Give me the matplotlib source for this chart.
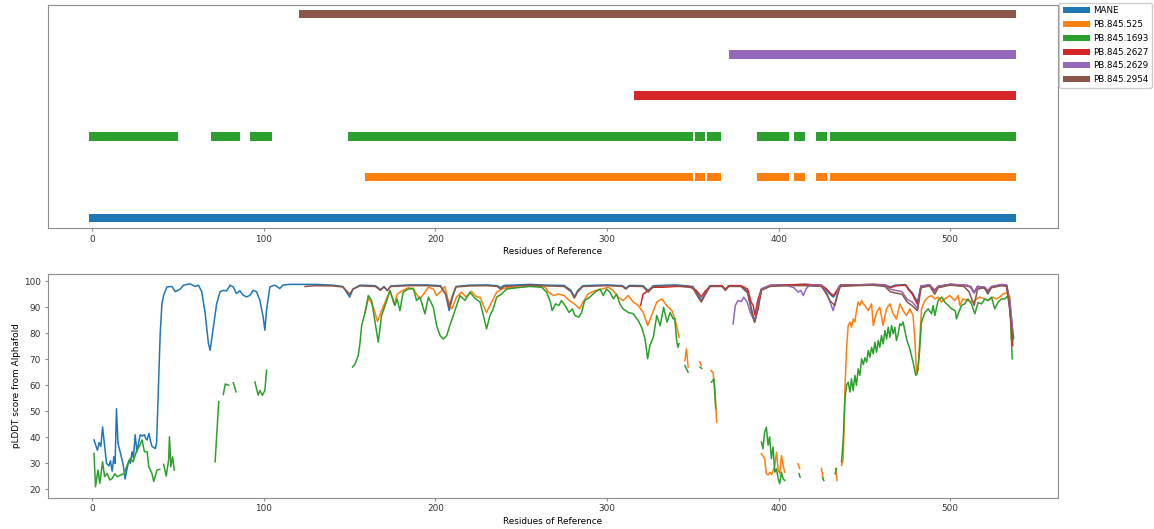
import numpy as np
import matplotlib
matplotlib.use("Agg")
import matplotlib.pyplot as plt

# isoform names and colours
isoforms = ["MANE", "PB.845.525", "PB.845.1693", "PB.845.2627", "PB.845.2629", "PB.845.2954"]
colors = ["#1f77b4", "#ff7f0e", "#2ca02c", "#d62728", "#9467bd", "#8c564b"]

# residue ranges (start, end) covered by each isoform, in reference residues
mane_ranges = [(-1.9, 538.6)]
pb525_ranges = [(158.9, 350.2), (351.2, 357.2), (358.4, 366.2), (387.2, 406.2),
                (408.9, 415.3), (422.1, 428.5), (430.0, 538.6)]
pb1693_ranges = [(-1.9, 50.1), (69.2, 86.1), (91.9, 104.5), (148.8, 350.2), (351.2, 357.2),
                 (358.4, 366.2), (387.2, 406.2), (408.9, 415.3), (422.1, 428.5), (430.0, 538.6)]
pb2627_ranges = [(315.7, 538.6)]
pb2629_ranges = [(371.3, 538.6)]
pb2954_ranges = [(120.5, 538.6)]

# pLDDT traces: list of segments, each segment a list of (residue, score)
mane_plddt = [[
    (1, 39), (2, 37), (3, 35), (4, 38), (5, 36.5), (6, 44), (7, 38), (8.3, 30), (9.7, 29),
    (10.6, 31), (11.6, 27), (12.6, 32.5), (13.3, 30), (14.1, 51), (15, 37.7), (16.4, 34),
    (17.5, 31), (18.4, 28), (19.1, 24), (20.3, 28), (21.3, 31), (22.2, 30), (23.2, 34.5),
    (24, 32), (25, 41), (26, 34.5), (27, 38), (28, 41), (29, 40.5), (30.4, 41), (31.2, 39.5),
    (32, 39), (33, 41.5), (34, 38.5), (34.8, 36.5), (36.8, 35.7), (37.5, 38), (38.9, 65.8),
    (39.6, 80), (40.6, 91.4), (41.6, 94.6), (43.5, 97.8), (46.4, 98), (48.4, 96), (51.3, 97),
    (53.2, 98.5), (57, 99), (60, 98), (61.9, 98.5), (63.8, 96), (65.8, 87.6), (67.7, 76),
    (68.7, 73.5), (70.6, 82.5), (72.5, 91.4), (74.5, 96), (76.4, 96.5), (78.3, 96.3),
    (80.3, 98.5), (82.2, 97.8), (84, 95.3), (86, 96.3), (88, 94.6), (90, 94), (91.9, 94.6),
    (93.8, 96.5), (95.7, 96), (97.7, 92.7), (99.6, 86.3), (100.6, 81.2), (101.6, 89),
    (103.5, 97.8), (106.4, 98.5), (109.3, 97.2), (111, 98.5), (115, 98.8), (121, 98.8),
    (130, 98.8), (140, 98.5), (146, 98), (148, 96), (150, 93.9), (152, 97), (156, 98.5),
    (165, 98.3), (168, 96.8), (170, 98), (172, 96.4), (174, 98.2), (185, 98.6), (195, 98.6),
    (203, 98.3), (206, 95), (208, 88.7), (210, 94), (212, 98), (220, 98.5), (230, 98.6),
    (236, 98.3), (238, 97.5), (240, 98.4), (255, 98.8), (265, 98.5), (275, 98.4), (279, 96.5),
    (281, 94), (283, 96.5), (286, 98.3), (300, 98.6), (309, 98.3), (311, 97.3), (313, 98.4),
    (321, 98.3), (324, 96.4), (327, 98.3), (340, 98.6), (350, 98), (353, 95), (355, 92.6),
    (357, 95), (360, 98.3), (367, 98.3), (369, 96.8), (371, 98.3), (378, 98.3), (382, 96),
    (384, 90), (386, 84.5), (388, 90), (390, 97), (395, 98.4), (405, 98.6), (415, 98.8),
    (425, 98.5), (428, 96.5), (430, 95), (432, 93.9), (434, 96), (436, 98.5), (445, 98.6),
    (455, 98.8), (462, 98.6), (465, 97.8), (468, 98.5), (474, 98.7), (476, 97), (478, 95.5),
    (481, 92), (483, 98.2), (488, 98.6), (491, 96.5), (493, 98), (500, 98.8), (508, 98.5),
    (512, 98), (514, 95.8), (516, 98), (520, 97.5), (522, 95.1), (524, 97.8), (530, 98.6),
    (533, 98.3), (535, 90), (537, 78)]]

pb525_plddt = [
    [(159, 88), (160.9, 93.5), (163, 91.3), (164.8, 88), (166.2, 84.5), (168.6, 88.7),
     (171, 92.5), (173.5, 96.4), (176, 91), (177.7, 95), (181, 96.5), (184.2, 97.5),
     (187.1, 97), (189, 95), (191, 93.2), (193.9, 95.8), (195.9, 97.7), (198.8, 97),
     (200.7, 94.5), (203.6, 96.4), (205.5, 98), (207.5, 92.6), (209.5, 89.4), (212.3, 93.9),
     (215.2, 95.8), (218, 93.9), (221, 96.1), (224, 94), (226, 93.9), (228, 90.7), (229.8, 88),
     (231.8, 90.7), (233.7, 93.2), (235.7, 95.8), (238.6, 97), (242.6, 97.7), (250, 97.7),
     (255, 98.2), (260, 98), (263.9, 97.7), (265.9, 95.8), (268.8, 94.5), (271.8, 95.1),
     (275, 94.5), (278, 92.6), (281, 91.3), (284, 89.4), (286, 92), (289, 95.1), (293, 96.4),
     (297, 97), (300.7, 97.7), (303.6, 96.4), (306.5, 93.9), (309.4, 92.6), (312.4, 94.5),
     (315.3, 92), (318.2, 90.7), (321.1, 88), (323.7, 83), (326, 86.8), (329, 92), (332, 93.2),
     (334.8, 90.7), (337.8, 88.7), (338.6, 87.5), (340.6, 83), (342, 78.5)],
    [(345.4, 69.5), (346.3, 74), (347.3, 67)],
    [(354, 69), (355, 67.6)],
    [(360.5, 65.7), (361.8, 65), (362.9, 58.6), (363.9, 45.8)],
    [(390, 33.7), (391.9, 31.8), (392.9, 26), (393.9, 25.5), (395, 26.6), (396, 25.7),
     (397.8, 29), (398.8, 34.3), (399.8, 27.5), (400.7, 26), (401.7, 33), (402.7, 29),
     (403.6, 26.6)],
    [(411.3, 29.8), (412.3, 28)],
    [(425, 28), (426, 24)],
    [(433.2, 28), (434.1, 23.4)],
    [(436.7, 29.2), (437.7, 31.8), (438.7, 58.6), (439.6, 74), (440.6, 83), (441.6, 84.3),
     (442.5, 82.3), (443.5, 85.5), (444.5, 84.3), (445.4, 88.7), (446.4, 92), (447.4, 90.7),
     (448.4, 92.6), (449.4, 91.3), (450.3, 90.7), (452.3, 88.7), (454.2, 91.3), (455.2, 83),
     (457.1, 88), (459, 90), (460.9, 83), (462.9, 89.4), (464.9, 91.3), (466.8, 87.5),
     (468.7, 85.5), (470.7, 91.3), (472.6, 88.7), (474.6, 86.8), (476.5, 89.4), (478.4, 86.8),
     (479.4, 77.8), (480.4, 65), (481.3, 65.7), (482.3, 77.8), (483.3, 89.4), (485.3, 92.6),
     (487.2, 93.9), (489.2, 94.5), (491.1, 93.2), (493, 93.9), (495, 92), (496.9, 93.2),
     (499.8, 94.5), (502.7, 92.6), (504.7, 94.5), (505.6, 90.7), (507.5, 93.2), (510.4, 92.6),
     (513.4, 92), (515.3, 93.2), (517.2, 93.9), (520.1, 93.2), (522.1, 92.6), (525, 93.9),
     (526.9, 93.2), (528.9, 93.9), (530.8, 95.1), (532.8, 95.5), (534.8, 93.9), (535.7, 77.8)]]

pb1693_plddt = [
    [(1, 33.8), (1.9, 21), (3.3, 27.4), (4.4, 22.3), (6, 30.6), (7.2, 24.9), (8.7, 26.1),
     (10.3, 23.6), (11.6, 24.2), (13.2, 26), (14.5, 24.9), (16.4, 25.5), (18.8, 26.1),
     (20.3, 29.3), (22.2, 31.9), (23.8, 30.6), (25.7, 34.5), (27.7, 37), (29, 39), (30.4, 34.5),
     (32, 34.5), (32.9, 28.7), (34.8, 26.1), (35.8, 23), (37.7, 27.4), (39.3, 27.7)],
    [(41.6, 29.6), (43.1, 25.1), (44.5, 31.3), (45, 40.2), (45.8, 28.7), (46.8, 32.5),
     (47.8, 27.4)],
    [(71.6, 30.6), (73.7, 53.7)],
    [(76.4, 56.5), (77.5, 60.5), (79.5, 60)],
    [(82.2, 61), (83.8, 57.5)],
    [(94.8, 61.3), (96.7, 56.2), (97.7, 58), (99.2, 56.2), (100.6, 58), (101.6, 65.8)],
    [(151.7, 67), (153, 68), (155, 71.4), (156, 76), (157, 83), (159, 88), (160.9, 94.5),
     (162.8, 92.6), (164.8, 84.3), (166.7, 76.6), (168.6, 86.8), (171, 91.3), (173.5, 96.4),
     (176.4, 90.7), (177.7, 93.2), (179.3, 88.7), (181.2, 95.8), (184.2, 97), (187.1, 97.3),
     (189, 92.6), (191, 93.9), (193.9, 87.5), (195.9, 93.9), (198.8, 90), (200.7, 83),
     (202.7, 79.1), (204.6, 77.8), (206.6, 79.1), (208.4, 83), (210.4, 86.8), (212.3, 90.6),
     (214.3, 94.5), (217.2, 92.6), (220.1, 95.8), (223, 93.5), (226, 92), (228, 86.8),
     (229.8, 81.7), (231.8, 86.8), (233.7, 89.4), (235.7, 93.9), (238.6, 95.1), (241.5, 97),
     (250, 97.7), (255, 98), (261.9, 97.7), (264.8, 95.8), (267, 92), (268, 88.7), (270, 91.3),
     (272, 90.7), (273.5, 92.6), (275.5, 90.7), (277.9, 88), (279.8, 89.4), (281.3, 86.8),
     (283.6, 86.2), (285.2, 88), (287, 92.6), (290, 93.9), (293, 95.8), (295.9, 97),
     (297.8, 94.5), (299.8, 97), (301.7, 95.8), (303.7, 93.2), (305.6, 95.1), (307.5, 91.3),
     (309.4, 89.4), (312.4, 88), (315.3, 87.5), (318.2, 84.9), (320.2, 82.3), (322.2, 77.8),
     (323.7, 70.2), (325, 75.3), (327, 78.5), (329, 86.8), (331, 82.9), (333, 90), (335, 84.3),
     (336.8, 88), (338.6, 85.5), (339.5, 85.8), (340.5, 77.8), (341.3, 74.6), (342, 76)],
    [(345.4, 67.6), (347.3, 65)],
    [(354.2, 67), (355.2, 66.5)],
    [(360.9, 61.2), (362.3, 62.5), (363.4, 51)],
    [(390, 38.2), (390.9, 35.6), (391.9, 42), (392.9, 43.9), (393.9, 37), (394.8, 40.2),
     (395.8, 31.8), (396.8, 36.3), (397.8, 26.6), (398.8, 27.9), (399.8, 24), (400.7, 22.2),
     (401.7, 26.6), (402.7, 24), (403.6, 23.4)],
    [(411.9, 26), (412.6, 24.7)],
    [(425.6, 24.5), (426.4, 23.4)],
    [(433, 26), (433.8, 28)],
    [(436.7, 30.5), (437.7, 39.4), (438.7, 54.8), (439.6, 60), (440.6, 61.2), (441.6, 57.4),
     (442.5, 62.5), (443.5, 58), (444.5, 63.8), (445.4, 60), (446.4, 66.3), (447.4, 63.8),
     (448.4, 70.2), (449.4, 68), (450.3, 70.6), (451.3, 68.9), (452.3, 73.4), (453.2, 70.8),
     (454.2, 74.6), (455.2, 72.1), (456.1, 76.6), (457.1, 72.7), (458.1, 77.2), (459, 74.6),
     (460, 79.1), (461, 75.9), (462, 81), (463, 77.8), (463.9, 82.3), (464.9, 78.5), (465.9, 83),
     (466.8, 79.8), (467.8, 82.3), (468.7, 77.2), (469.7, 79.8), (470.7, 83.6), (471.6, 83),
     (472.6, 84.3), (474.6, 77.8), (476.5, 74), (478.4, 68.9), (480, 63.8), (480.8, 64.4),
     (482, 71.4), (483.3, 84.3), (485.3, 88), (487.2, 89.4), (489.2, 87.5), (490.1, 90.7),
     (491.1, 86.8), (493, 92.6), (495, 93.9), (496.9, 92), (498.9, 90.7), (500.8, 89.4),
     (503, 88.7), (503.7, 85.5), (504.7, 87.5), (506.6, 90.7), (508.5, 91.3), (510.4, 93.2),
     (512.4, 91.3), (514.4, 87.5), (516.3, 91.8), (518.3, 91.3), (520.2, 93.2), (522.1, 92.6),
     (524.1, 93.9), (526, 89.4), (528, 92), (529.9, 93.2), (531.8, 93.2), (533.8, 94.5),
     (534.8, 92), (536.2, 70.2)]]

pb2627_plddt = [[
    (319.6, 90.7), (321, 95), (324, 96.4), (327, 97.7), (333, 97.7), (340, 98), (348, 98),
    (352, 96.5), (355, 94), (357, 96), (360, 98), (367, 98.3), (369, 96.8), (371, 98.3),
    (378, 98.3), (382, 97), (384, 92), (385.2, 90.7), (386.2, 87), (388, 93), (390, 97),
    (395, 98.4), (405, 98.6), (415, 98.8), (425, 98.5), (428, 97), (430, 95.5), (432, 94.5),
    (434, 96.5), (436, 98.5), (445, 98.6), (455, 98.8), (462, 98.6), (465, 97.5), (468, 98.2),
    (474, 98.5), (476, 96.5), (478, 95), (481, 91), (483, 98), (488, 98.6), (491, 96.5),
    (493, 98), (500, 98.8), (508, 98.5), (512, 97.8), (514, 95.5), (516, 98), (520, 97.5),
    (522, 95.8), (524, 97.8), (530, 98.6), (533, 98.3), (535, 88), (536.5, 75.3)]]

pb2629_plddt = [[
    (373.5, 83.6), (374.8, 90.7), (376.4, 92.6), (378.4, 92.2), (379.7, 93.9), (381.7, 92),
    (383.5, 88), (385, 86), (386.2, 84.5), (388, 90), (390, 97), (395, 98.4), (405, 98.4),
    (409, 97.5), (411.5, 95.8), (413, 96.5), (414.4, 94.5), (416, 97), (418, 98.5), (425, 98.5),
    (428, 95.5), (430, 92), (431.8, 88.7), (433.5, 93), (435, 98), (445, 98.6), (455, 98.7),
    (462, 98.5), (465, 97), (468, 96.5), (472, 96), (475, 93), (478, 92), (481, 89.5), (483, 98),
    (488, 98.6), (491, 96), (493, 98), (500, 98.8), (510, 98.5), (512, 97.5), (514, 95.5),
    (516, 98), (520, 97.8), (522, 96.5), (524, 98), (530, 98.8), (533, 98.6), (535, 92),
    (536.5, 80)]]

pb2954_plddt = [[
    (124, 98), (130, 98.3), (140, 98.2), (146, 97.8), (148, 96.5), (150, 95), (152, 97),
    (156, 98.2), (165, 98), (168, 96.5), (170, 97.8), (172, 96.5), (174, 98), (185, 98.3),
    (195, 98.3), (203, 98), (206, 95), (208, 90), (210, 94.5), (212, 97.8), (220, 98.2),
    (230, 98.3), (236, 98), (238, 97), (240, 98), (255, 98.5), (265, 98.2), (275, 98), (279, 96),
    (281, 93.5), (283, 96), (286, 98), (300, 98.3), (309, 98), (311, 97), (313, 98.1), (321, 98),
    (324, 95.8), (327, 98), (340, 98.3), (350, 97.5), (353, 94), (355, 92), (357, 94.5),
    (360, 98), (367, 98), (369, 96.5), (371, 98), (378, 98), (382, 95.5), (384, 89),
    (386, 84.2), (388, 89), (390, 96.5), (395, 98), (405, 98.3), (415, 98.3), (425, 98),
    (428, 95), (430, 92.5), (432.8, 90.7), (434.5, 95), (436, 98), (445, 98.3), (455, 98.5),
    (462, 98), (465, 96), (468, 95.5), (472, 95), (475, 92), (478, 90.5), (481, 88.7),
    (483, 97.5), (488, 98.2), (491, 95), (493, 97.5), (500, 98.5), (508, 98), (511, 96),
    (514, 90.7), (516, 97), (520, 97.5), (522, 95.5), (524, 97.5), (530, 98.3), (533, 98),
    (535, 88), (536.5, 77)]]

ranges = [mane_ranges, pb525_ranges, pb1693_ranges, pb2627_ranges, pb2629_ranges, pb2954_ranges]
traces = [mane_plddt, pb525_plddt, pb1693_plddt, pb2627_plddt, pb2629_plddt, pb2954_plddt]


def join_segments(segments):
    # put NaN between segments so the line breaks where the isoform has no residue
    xs, ys = [], []
    for seg in segments:
        if xs:
            xs.append(np.nan)
            ys.append(np.nan)
        xs += [p[0] for p in seg]
        ys += [p[1] for p in seg]
    return np.array(xs), np.array(ys)


plt.rcParams["font.family"] = "DejaVu Sans"
plt.rcParams["font.size"] = 6.4
plt.rcParams["xtick.major.size"] = 2.4
plt.rcParams["ytick.major.size"] = 2.4
plt.rcParams["xtick.major.pad"] = 2.4
plt.rcParams["ytick.major.pad"] = 2.4
plt.rcParams["axes.labelpad"] = 2.6

fig = plt.figure(figsize=(11.54, 5.29), dpi=100)
ax1 = fig.add_axes([0.0413, 0.569, 0.8757, 0.4216])
ax2 = fig.add_axes([0.0413, 0.0592, 0.8757, 0.4229])

# top: residue coverage of each isoform
bar_h = 0.21
for i, (name, rngs, c) in enumerate(zip(isoforms, ranges, colors)):
    ax1.broken_barh([(s, e - s) for s, e in rngs], (i - bar_h / 2, bar_h),
                    facecolors=c, label=name)
ax1.set_xlim(-26, 563)
ax1.set_ylim(-0.245, 5.22)
ax1.set_yticks([])
ax1.set_xlabel("Residues of Reference")
ax1.legend(loc="upper left", bbox_to_anchor=(1.001, 1.01), borderaxespad=0,
           handlelength=3.1, handletextpad=0.35, borderpad=0.4, fontsize=6.3,
           labelspacing=0.55, framealpha=1)

# bottom: pLDDT per residue
for segs, c in zip(traces, colors):
    x, y = join_segments(segs)
    ax2.plot(x, y, color=c, lw=1.1)
ax2.set_xlim(-26, 563)
ax2.set_ylim(16.8, 102.8)
ax2.set_xlabel("Residues of Reference")
ax2.set_ylabel("pLDDT score from Alphafold")

for ax in (ax1, ax2):
    for sp in ax.spines.values():
        sp.set_color("0.55")
    ax.tick_params(colors="0.55", labelcolor="0.2")

fig.savefig("out.png", dpi=100)
